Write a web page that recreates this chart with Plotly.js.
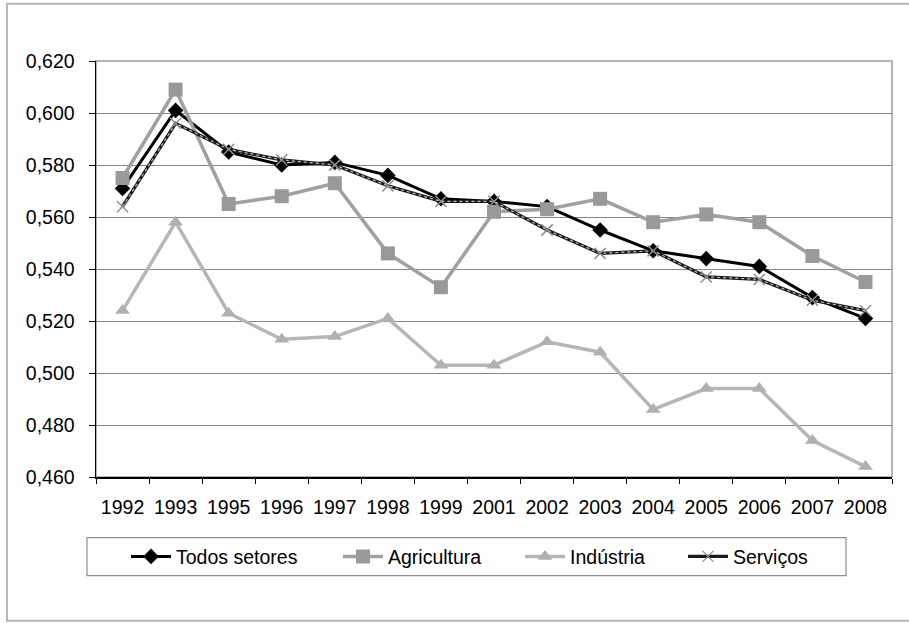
<!DOCTYPE html>
<html>
<head>
<meta charset="utf-8">
<script src="https://cdn.plot.ly/plotly-3.0.1.min.js"></script>
<style>
  html, body { margin: 0; padding: 0; background: #ffffff; }
  #chart { width: 909px; height: 623px; }
</style>
</head>
<body>
<div id="chart"></div>
<script>
// Years (categories on the x axis)
const years = ['1992','1993','1995','1996','1997','1998','1999','2001','2002','2003','2004','2005','2006','2007','2008'];

// Index values per sector
const todosSetores = [0.571, 0.601, 0.585, 0.580, 0.581, 0.576, 0.567, 0.566, 0.564, 0.555, 0.547, 0.544, 0.541, 0.529, 0.521];
const agricultura  = [0.575, 0.609, 0.565, 0.568, 0.573, 0.546, 0.533, 0.562, 0.563, 0.567, 0.558, 0.561, 0.558, 0.545, 0.535];
const industria    = [0.524, 0.558, 0.523, 0.513, 0.514, 0.521, 0.503, 0.503, 0.512, 0.508, 0.486, 0.494, 0.494, 0.474, 0.464];
const servicos     = [0.564, 0.596, 0.586, 0.582, 0.580, 0.572, 0.566, 0.566, 0.555, 0.546, 0.547, 0.537, 0.536, 0.528, 0.524];

// Series names and y-axis tick values
const seriesNames = ['Todos setores', 'Agricultura', 'Indústria', 'Serviços'];
const yTicks = [0.46, 0.48, 0.50, 0.52, 0.54, 0.56, 0.58, 0.60, 0.62];

const FONT = 'Liberation Sans, Arial, Helvetica, sans-serif';

const traces = [
  {
    x: years, y: todosSetores, name: seriesNames[0], type: 'scatter', mode: 'lines+markers',
    line: { color: '#000000', width: 3 },
    marker: { symbol: 'diamond', size: 12, color: '#000000' },
    legend: 'legend'
  },
  {
    x: years, y: agricultura, name: seriesNames[1], type: 'scatter', mode: 'lines+markers',
    line: { color: '#a0a0a0', width: 3.5 },
    marker: { symbol: 'square', size: 14, color: '#999999' },
    legend: 'legend2'
  },
  {
    x: years, y: industria, name: seriesNames[2], type: 'scatter', mode: 'lines+markers',
    line: { color: '#b6b6b6', width: 3.5 },
    marker: { symbol: 'triangle-up', size: 13, color: '#b0b0b0' },
    legend: 'legend3'
  },
  // Services: a dark base line with a light dotted line on top of it
  {
    x: years, y: servicos, name: seriesNames[3], type: 'scatter', mode: 'lines+markers',
    line: { color: '#1a1a1a', width: 3.2 },
    marker: { symbol: 'x-thin-open', size: 11, color: '#8c8c8c', line: { color: '#8c8c8c', width: 1.2 } },
    legend: 'legend4'
  },
  {
    x: years, y: servicos, name: seriesNames[3], type: 'scatter', mode: 'lines+markers',
    line: { color: '#bdbdbd', width: 1.2, dash: 'dot' },
    marker: { symbol: 'x-thin-open', size: 11, color: '#8c8c8c', line: { color: '#8c8c8c', width: 1.2 } },
    showlegend: false, hoverinfo: 'skip'
  }
];

const legendBase = {
  orientation: 'h', xanchor: 'left', yanchor: 'middle', y: -0.1916,
  bgcolor: 'rgba(0,0,0,0)', borderwidth: 0,
  font: { family: FONT, size: 19.5, color: '#000000' },
  itemwidth: 40
};

const layout = {
  width: 909, height: 623,
  margin: { l: 96, r: 17, t: 61, b: 146 },
  paper_bgcolor: '#ffffff', plot_bgcolor: '#ffffff',
  separators: ',.',
  font: { family: FONT, size: 19.5, color: '#000000' },
  showlegend: true,
  xaxis: {
    type: 'category', tickson: 'boundaries', tickangle: 0,
    range: [-0.5, years.length - 0.5],
    ticks: 'outside', ticklen: 5, tickcolor: '#000000', tickwidth: 1,
    showline: true, linecolor: '#000000', linewidth: 1.5,
    showgrid: false, zeroline: false,
    tickfont: { family: FONT, size: 19.5, color: '#000000' },
    ticklabelstandoff: 12
  },
  yaxis: {
    range: [0.46, 0.62], tickvals: yTicks, tickformat: '.3f',
    ticks: 'outside', ticklen: 6, tickcolor: '#000000', tickwidth: 1,
    showline: true, linecolor: '#000000', linewidth: 1.5,
    showgrid: true, gridcolor: '#868686', gridwidth: 1,
    zeroline: false,
    tickfont: { family: FONT, size: 19.5, color: '#000000' },
    ticklabelstandoff: 10
  },
  legend:  Object.assign({}, legendBase, { x: 0.0377 }),
  legend2: Object.assign({}, legendBase, { x: 0.304 }),
  legend3: Object.assign({}, legendBase, { x: 0.5327 }),
  legend4: Object.assign({}, legendBase, { x: 0.7374 }),
  shapes: [
    // plot area frame (top and right edges)
    { type: 'rect', xref: 'paper', yref: 'paper', x0: 0, x1: 1, y0: 0, y1: 1,
      line: { color: '#9a9a9a', width: 1.5 }, layer: 'below' },
    // legend box
    { type: 'rect', xref: 'paper', yref: 'paper', x0: -0.0113, x1: 0.9422, y0: -0.2373, y1: -0.1459,
      line: { color: '#8f8f8f', width: 1.2 }, layer: 'below' },
    // outer chart frame
    { type: 'rect', xref: 'paper', yref: 'paper', x0: -0.1118, x1: 1.03, y0: -0.3454, y1: 1.1377,
      line: { color: '#bcb6b1', width: 2 }, layer: 'below' }
  ]
};

Plotly.newPlot('chart', traces, layout, { displayModeBar: false, staticPlot: true });
</script>
</body>
</html>
